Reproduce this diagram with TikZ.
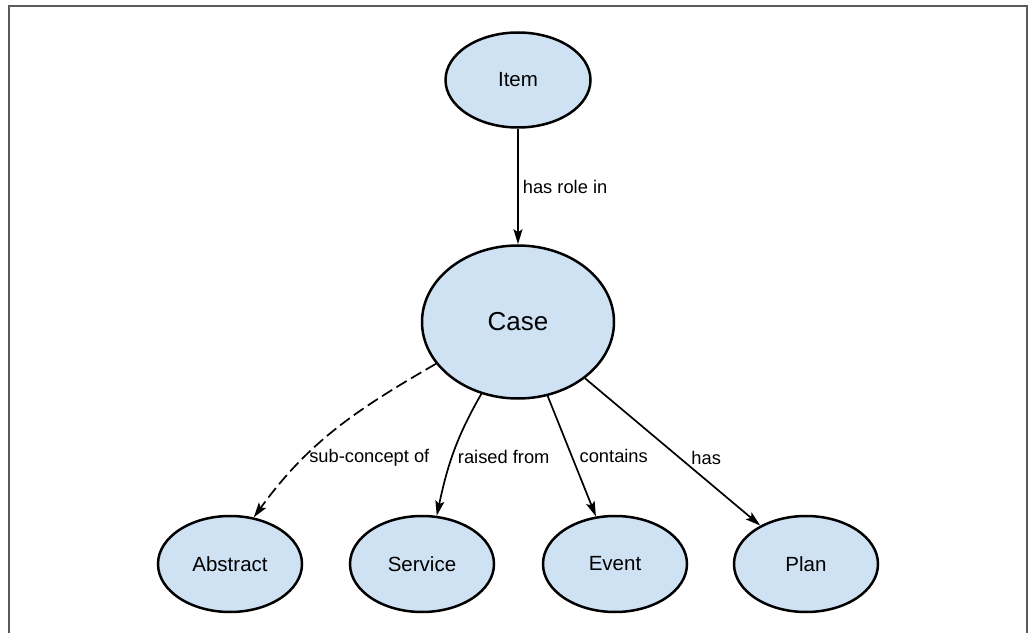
\documentclass[tikz,border=0pt]{standalone}
\usepackage{fontspec}
\setmainfont{Liberation Sans}
\usetikzlibrary{shapes.geometric,arrows.meta}
\definecolor{nodefill}{RGB}{207,226,243}
\definecolor{framegray}{RGB}{90,90,90}
\begin{document}
\begin{tikzpicture}[x=1pt,y=1pt,
  concept/.style={ellipse, draw=black, line width=2.5pt, fill=nodefill, inner sep=0pt,
    minimum width=144pt, minimum height=96pt, font=\fontsize{20.5}{24}\selectfont},
  rel/.style={line width=1.7pt, -{Stealth[length=15pt,width=9pt,inset=3pt]}},
  lbl/.style={font=\fontsize{18.3}{21}\selectfont, anchor=west}
]
\useasboundingbox (0,0) rectangle (1029,633);
\draw[framegray, line width=2pt] (8.5,0) -- (8.5,626.5) -- (1027,626.5) -- (1027,0);

\node[concept, minimum width=145pt, minimum height=95pt] (item) at (518,553) {Item};
\node[concept, minimum width=192pt, minimum height=153pt, font=\fontsize{26}{30}\selectfont] (case) at (518,311) {Case};
\node[concept] (abstract) at (230,69) {Abstract};
\node[concept] (service) at (422,69) {Service};
\node[concept] (event) at (615,69) {Event};
\node[concept] (plan) at (806,69) {Plan};

\draw[rel] (item) -- node[lbl, midway, inner sep=4pt] {has role in} (case);
\draw[rel, dash pattern=on 12pt off 5pt] (case.207) to[out=210, in=54]
  node[lbl, pos=0.685, inner sep=4pt] {sub-concept of} (abstract.63);
\draw[rel] (case.243) to[out=240, in=78]
  node[lbl, pos=0.535, inner sep=5pt] {raised from} (service.73);
\draw[rel] (case) -- node[lbl, pos=0.5, inner sep=7pt] {contains} (event);
\draw[rel] (case) -- node[lbl, pos=0.54, inner sep=11pt] {has} (plan);
\end{tikzpicture}
\end{document}
